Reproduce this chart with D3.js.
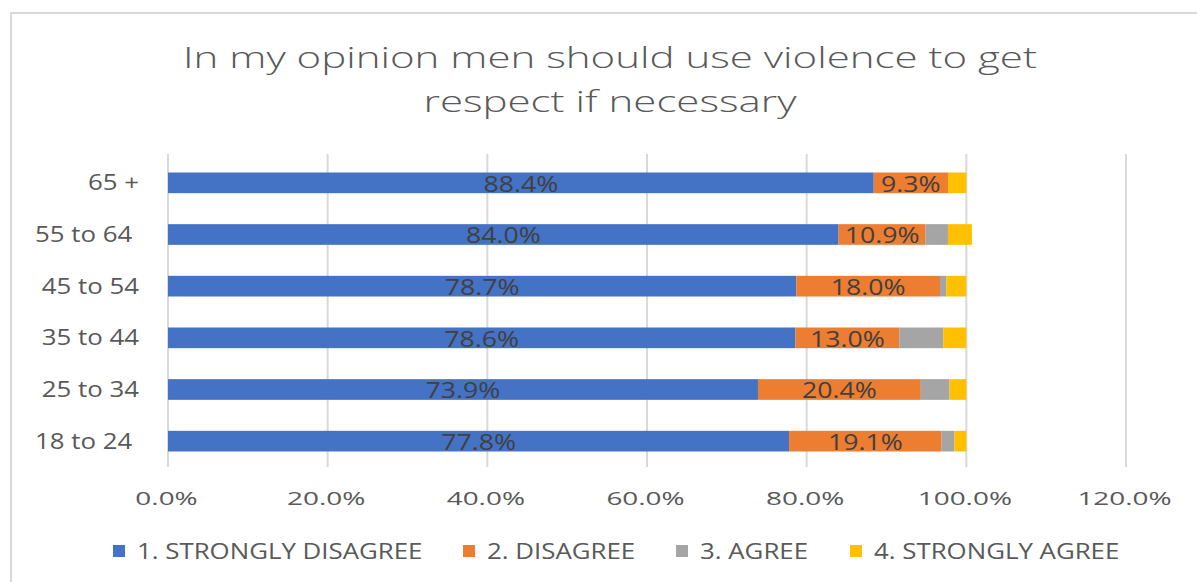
<!DOCTYPE html>
<html>
<head>
<meta charset="utf-8">
<script src="https://cdn.jsdelivr.net/npm/d3@7"></script>
<style>
  html, body { margin: 0; padding: 0; background: #fff; }
  svg { display: block; }
  text { font-family: "Open Sans", "Liberation Sans", sans-serif; }
</style>
</head>
<body>
<svg id="chart" width="1197" height="582"></svg>
<script>
// Age groups, bottom to top
const categories = ["18 to 24 ", "25 to 34", "35 to 44", "45 to 54", "55 to 64 ", "65 +"];

// Share of respondents per answer (%)
const stronglyDisagree = [77.8, 73.9, 78.6, 78.7, 84.0, 88.4];
const disagree         = [19.1, 20.4, 13.0, 18.0, 10.9, 9.3];
const agree            = [1.6, 3.6, 5.5, 0.8, 2.8, 0.0];
const stronglyAgree    = [1.5, 2.1, 2.9, 2.5, 3.0, 2.3];

const seriesNames = ["1. STRONGLY DISAGREE", "2. DISAGREE", "3. AGREE", "4. STRONGLY AGREE"];
const seriesColors = ["#4472C4", "#ED7D31", "#A5A5A5", "#FFC000"];
const xTicks = [0, 20, 40, 60, 80, 100, 120];

const titleLines = ["In my opinion men should use violence to get", "respect if necessary"];

const rows = categories.map((c, i) => ({
  category: c,
  s0: stronglyDisagree[i],
  s1: disagree[i],
  s2: agree[i],
  s3: stronglyAgree[i]
}));
const keys = ["s0", "s1", "s2", "s3"];
const stacked = d3.stack().keys(keys)(rows);

// widen glyphs horizontally to get the broad Office-style lettering
function stretch(sel, factor) {
  sel.each(function () {
    const w = this.getComputedTextLength();
    d3.select(this)
      .attr("textLength", w * factor)
      .attr("lengthAdjust", "spacingAndGlyphs");
  });
}

const svg = d3.select("#chart");

// chart frame
svg.append("rect")
  .attr("x", 11).attr("y", 13)
  .attr("width", 1200).attr("height", 600)
  .attr("fill", "#fff")
  .attr("stroke", "#d9d9d9").attr("stroke-width", 2);

const x = d3.scaleLinear().domain([0, 120]).range([168, 1126]);
const y = d3.scaleBand()
  .domain(categories.slice().reverse())
  .range([157, 467])
  .paddingInner(0.6)
  .paddingOuter(0.3);

// title
const title = svg.append("g")
  .selectAll("text")
  .data(titleLines)
  .join("text")
  .attr("x", 610)
  .attr("y", (d, i) => 68 + i * 44)
  .attr("text-anchor", "middle")
  .attr("fill", "#595959")
  .style("font-size", "30px")
  .style("font-weight", 300)
  .text(d => d);
stretch(title, 1.40);

// vertical gridlines
svg.append("g")
  .selectAll("line")
  .data(xTicks)
  .join("line")
  .attr("x1", d => x(d)).attr("x2", d => x(d))
  .attr("y1", 154).attr("y2", 467)
  .attr("stroke", "#d9d9d9")
  .attr("stroke-width", 2);

// x axis tick labels
const xAxis = d3.axisBottom(x)
  .tickValues(xTicks)
  .tickSize(0)
  .tickPadding(0)
  .tickFormat(d => d3.format(".1f")(d) + "%");
const gx = svg.append("g")
  .attr("transform", "translate(-2,505)")
  .call(xAxis);
gx.select(".domain").remove();
gx.selectAll("text")
  .attr("dy", 0)
  .attr("fill", "#595959")
  .style("font-size", "18px")
  .style("font-family", "'Open Sans', sans-serif");
stretch(gx.selectAll("text"), 1.55);

// y axis category labels
const yAxis = d3.axisLeft(y).tickSize(0).tickPadding(0);
const gy = svg.append("g")
  .attr("transform", "translate(139,0)")
  .call(yAxis);
gy.select(".domain").remove();
gy.selectAll("text")
  .attr("dy", "0.36em")
  .attr("fill", "#595959")
  .style("font-size", "21px")
  .style("white-space", "pre")
  .style("font-family", "'Open Sans', sans-serif");
stretch(gy.selectAll("text"), 1.23);

// stacked bars
const layers = svg.append("g")
  .selectAll("g")
  .data(stacked)
  .join("g")
  .attr("fill", (d, i) => seriesColors[i]);

layers.selectAll("rect")
  .data(d => d)
  .join("rect")
  .attr("x", d => x(d[0]))
  .attr("width", d => Math.max(0, x(d[1]) - x(d[0])))
  .attr("y", d => y(d.data.category))
  .attr("height", y.bandwidth());

// value labels on the first two answers
const labelled = stacked.slice(0, 2);
const valueLabels = svg.append("g")
  .selectAll("g")
  .data(labelled)
  .join("g")
  .selectAll("text")
  .data(d => d.map(p => ({ p, v: p[1] - p[0] })))
  .join("text")
  .attr("x", d => (x(d.p[0]) + x(d.p[1])) / 2)
  .attr("y", d => y(d.p.data.category) + y.bandwidth() / 2)
  .attr("dy", "0.42em")
  .attr("text-anchor", "middle")
  .attr("fill", "#404040")
  .style("font-size", "21px")
  .text(d => d3.format(".1f")(d.v) + "%");
stretch(valueLabels, 1.27);

// legend
const legendX = [113, 463, 676, 850];
const legend = svg.append("g")
  .selectAll("g")
  .data(seriesNames)
  .join("g")
  .attr("transform", (d, i) => `translate(${legendX[i]},551)`);
legend.append("rect")
  .attr("x", 0).attr("y", -6)
  .attr("width", 12).attr("height", 12)
  .attr("fill", (d, i) => seriesColors[i]);
const legendText = legend.append("text")
  .attr("x", 24)
  .attr("dy", "0.36em")
  .attr("fill", "#595959")
  .style("font-size", "21px")
  .text(d => d);
stretch(legendText, 1.23);
</script>
</body>
</html>
